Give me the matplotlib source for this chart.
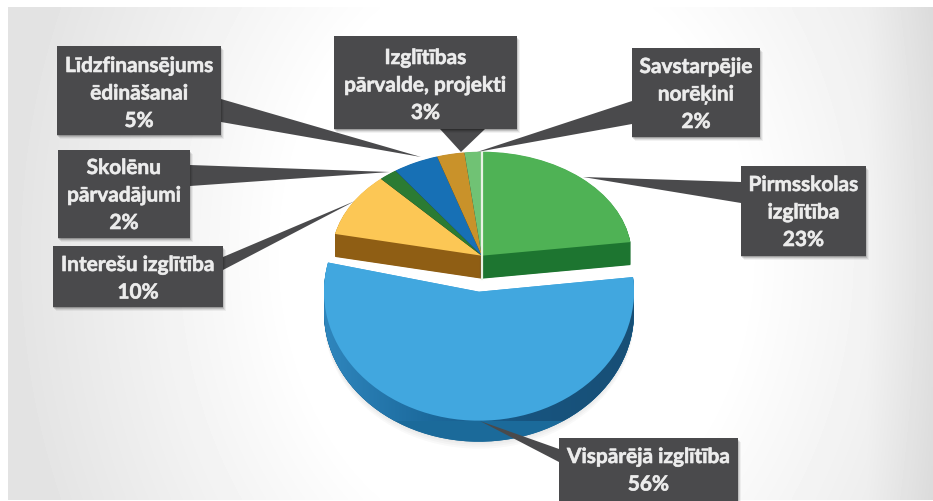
import numpy as np
import matplotlib
matplotlib.use('Agg')
import matplotlib.pyplot as plt
import matplotlib.patheffects as pe
from matplotlib.colors import LinearSegmentedColormap
from matplotlib.patches import Polygon, Rectangle

categories = ['Pirmsskolas\nizglītība', 'Vispārējā izglītība', 'Interešu izglītība',
              'Skolēnu\npārvadājumi', 'Līdzfinansējums\nēdināšanai',
              'Izglītības\npārvalde, projekti', 'Savstarpējie\nnorēķini']
values = [23, 56, 10, 2, 5, 3, 2]
top_colors = ['#4fb255', '#41a7df', '#fcc755', '#2b7b33', '#1770b5', '#c9922a', '#70c274']
side_colors = ['#1d7530', '#1b6a9a', '#8f5e14', '#26261c', '#26261c', '#26261c', '#26261c']

W, H = 933, 502
BLUE = 1

# label boxes: x0, x1, y0, y1, then the callout triangle (two base points, tip)
boxes = [
    (741, 866, 167, 257, [(741, 183), (741, 204), (583, 178)]),
    (559, 738, 439, 505, [(559, 450), (559, 463), (480, 422)]),
    (53, 223, 247, 308, [(223, 258), (223, 271), (355, 202)]),
    (58, 190, 151, 239, [(190, 166), (190, 187), (390, 173)]),
    (57, 221, 47, 136, [(221, 100), (221, 123), (421, 158)]),
    (334, 517, 37, 130, [(440, 130), (485, 130), (461, 153)]),
    (632, 760, 49, 138, [(632, 102), (632, 125), (477, 153)]),
]
first_baselines = [192, 464, 272, 175, 73, 65, 74]

fig = plt.figure(figsize=(W / 100, H / 100), dpi=100, facecolor='white')


def pie_axes(cx, cy, rx, ry, zorder):
    ax = fig.add_axes([(cx - rx) / W, 1 - (cy + ry) / H, 2 * rx / W, 2 * ry / H],
                      zorder=zorder)
    ax.patch.set_alpha(0)
    return ax


def finish_pie(ax):
    ax.set_aspect('auto')
    ax.set_xlim(-1, 1)
    ax.set_ylim(-1, 1)
    ax.axis('off')


def draw_pie(ax, ry, depth, tops, sides, start):
    props = {'linewidth': 0, 'clip_on': False}
    for d in np.arange(depth, 0, -0.5):
        ax.pie(values, colors=sides, startangle=start, counterclock=False,
               center=(0, -d / ry), wedgeprops=props)
    wedges, _ = ax.pie(values, colors=tops, startangle=start, counterclock=False,
                       wedgeprops=props)
    finish_pie(ax)
    return wedges


# background
bg = fig.add_axes([0, 0, 1, 1], zorder=0)
xx, yy = np.meshgrid(np.linspace(0, 1, 300), np.linspace(0, 1, 160))
r = np.sqrt(((xx - 0.55) / 0.55) ** 2 + ((yy - 0.5) / 1.3) ** 2)
shade = np.clip((r - 0.45) / 0.55, 0, 1) * 0.11 + np.maximum(0, (xx - 0.93) / 0.07) * 0.05
bg.imshow(1 - shade, cmap='gray', vmin=0, vmax=1, aspect='auto',
          extent=(8, W, 501, 8), interpolation='bilinear')
bg.set_xlim(0, W)
bg.set_ylim(H, 0)
bg.axis('off')

# upper part of the pie, everything except the exploded slice
back = pie_axes(481.7, 256.7, 150, 104, 1)
tops = list(top_colors)
sides = list(side_colors)
tops[BLUE] = 'none'
sides[BLUE] = 'none'
draw_pie(back, 104, 23, tops, sides, 89.5)
back.plot([0, 0], [1, -23 / 104], color='#e8f2e4', lw=1.6, clip_on=False)

# exploded slice
front = pie_axes(479, 292.7, 155, 129, 2)
tops = ['none'] * len(values)
sides = ['none'] * len(values)
tops[BLUE] = top_colors[BLUE]
sides[BLUE] = side_colors[BLUE]
soft = ['none'] * len(values)
soft[BLUE] = (0, 0, 0, 0.025)
for d in [28, 26, 24, 22]:
    front.pie(values, colors=soft, startangle=88.5, counterclock=False,
              center=(0, -d / 129), wedgeprops={'linewidth': 0, 'clip_on': False})
draw_pie(front, 129, 21, tops, sides, 88.5)
low, _ = front.pie(values, colors=sides, startangle=88.5, counterclock=False,
                   center=(0, -21 / 129), wedgeprops={'linewidth': 0, 'clip_on': False})
side_cmap = LinearSegmentedColormap.from_list('side', ['#2f86bd', '#1c6a9d', '#17547f', '#184f76'])
grad = front.imshow(np.linspace(0, 1, 200).reshape(1, -1), cmap=side_cmap,
                    extent=(-1, 1, -1.3, 1), aspect='auto', zorder=1.5)
grad.set_clip_path(low[BLUE])
# top face again above the gradient
front.pie(values, colors=tops, startangle=88.5, counterclock=False,
          wedgeprops={'linewidth': 0, 'clip_on': False, 'zorder': 2})
finish_pie(front)

# callouts and label boxes
over = fig.add_axes([0, 0, 1, 1], zorder=3)
over.patch.set_alpha(0)
over.set_xlim(0, W)
over.set_ylim(H, 0)
over.axis('off')

for box, first, name, value in zip(boxes, first_baselines, categories, values):
    x0, x1, y0, y1, callout = box
    over.add_patch(Polygon(callout, closed=True, fc='#4a4a4c', ec='none', zorder=3))
    for off, alpha in [(5, 0.05), (4, 0.08), (3, 0.12), (2, 0.18)]:
        over.add_patch(Rectangle((x0 + off - 2, y0 + off - 1), x1 - x0, y1 - y0,
                                 fc='black', ec='none', alpha=alpha, zorder=4))
    over.add_patch(Rectangle((x0, y0), x1 - x0, y1 - y0, fc='#4a4a4c', ec='none', zorder=5))
    lines = name.split('\n') + [f'{value}%']
    for i, line in enumerate(lines):
        t = over.text((x0 + x1) / 2, first + i * 27.5, line, color='#ececec', ha='center',
                      va='baseline', fontsize=15, fontweight='bold',
                      family=['Lato', 'DejaVu Sans'], zorder=6)
        t.set_path_effects([pe.withStroke(linewidth=0.5, foreground='#d8d8d8')])

fig.savefig('out.png', dpi=100)
